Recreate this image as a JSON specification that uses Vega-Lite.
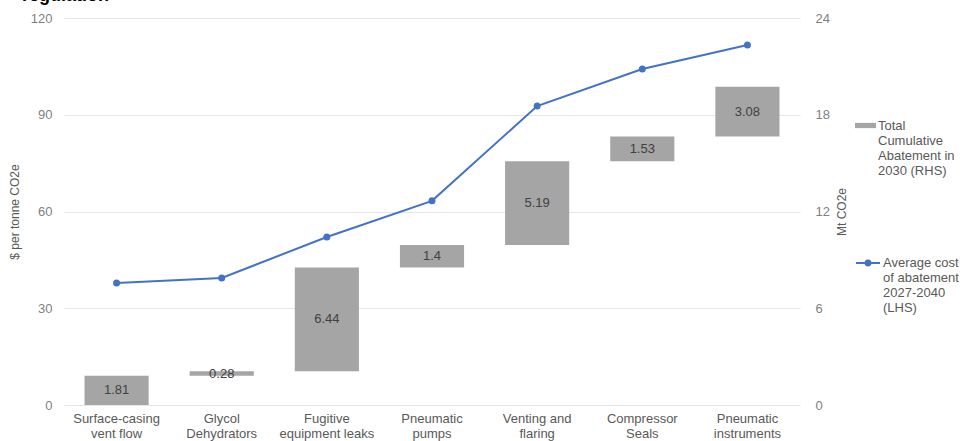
{
  "$schema": "https://vega.github.io/schema/vega-lite/v6.json",
  "width": 736,
  "height": 387,
  "autosize": {"type": "none"},
  "padding": {"left": 64, "top": 18, "right": 163, "bottom": 36},
  "background": "white",
  "title": {"text": "regulation", "anchor": "start", "frame": "group", "fontSize": 18, "fontWeight": "bold", "color": "#000000", "font": "Liberation Sans", "dx": -42, "offset": 7},
  "config": {"view": {"stroke": null}, "font": "Liberation Sans"},
  "data": {
    "values": [
      {"order": 1, "cat": "Surface-casing|vent flow", "abatement": 1.81, "cost": 37.8},
      {"order": 2, "cat": "Glycol|Dehydrators", "abatement": 0.28, "cost": 39.4},
      {"order": 3, "cat": "Fugitive|equipment leaks", "abatement": 6.44, "cost": 52.1},
      {"order": 4, "cat": "Pneumatic|pumps", "abatement": 1.4, "cost": 63.3},
      {"order": 5, "cat": "Venting and|flaring", "abatement": 5.19, "cost": 92.7},
      {"order": 6, "cat": "Compressor|Seals", "abatement": 1.53, "cost": 104.2},
      {"order": 7, "cat": "Pneumatic|instruments", "abatement": 3.08, "cost": 111.6}
    ]
  },
  "transform": [
    {"window": [{"op": "sum", "field": "abatement", "as": "end"}], "sort": [{"field": "order"}]},
    {"calculate": "datum.end - datum.abatement", "as": "start"},
    {"calculate": "datum.end - datum.abatement / 2", "as": "mid"}
  ],
  "encoding": {
    "x": {
      "field": "cat", "type": "nominal", "sort": null, "title": null,
      "scale": {"paddingInner": 0.39, "paddingOuter": 0.195},
      "axis": {"labelExpr": "split(datum.label, '|')", "labelAngle": 0, "labelFontSize": 13, "labelColor": "#595959", "labelLineHeight": 15, "labelPadding": 7, "domain": false, "ticks": false, "labelFont": "Liberation Sans"}
    }
  },
  "layer": [
    {
      "layer": [
        {
          "mark": {"type": "bar"},
          "encoding": {
            "y": {"field": "start", "type": "quantitative", "title": "Mt CO2e", "scale": {"domain": [0, 24]},
              "axis": {"orient": "right", "values": [0, 6, 12, 18, 24], "grid": false, "domain": false, "ticks": false, "labelFontSize": 13, "labelColor": "#7f7f7f", "labelPadding": 15, "labelAlign": "left", "titleAngle": 270, "titleFontSize": 12, "titleFontWeight": "normal", "titleColor": "#595959", "titlePadding": 19}},
            "y2": {"field": "end"},
            "fill": {"datum": "Total|Cumulative|Abatement in|2030 (RHS)", "type": "nominal", "scale": {"range": ["#a5a5a5"]},
              "legend": {"title": null, "orient": "none", "legendX": 791, "legendY": 97, "symbolType": "M-1,-0.25H1V0.25H-1Z", "symbolSize": 441, "symbolStrokeWidth": 0, "labelExpr": "split(datum.label, '|')", "labelFontSize": 13, "labelColor": "#595959", "labelOffset": 2, "labelLimit": 200}}
          }
        },
        {
          "mark": {"type": "text", "fontSize": 13, "color": "#404040", "baseline": "middle"},
          "encoding": {
            "y": {"field": "mid", "type": "quantitative", "title": "Mt CO2e"},
            "text": {"field": "abatement", "type": "quantitative"}
          }
        }
      ]
    },
    {
      "mark": {"type": "line", "strokeWidth": 2, "point": {"filled": true, "size": 25, "color": "#4472c4"}},
      "encoding": {
        "y": {"field": "cost", "type": "quantitative", "title": "$ per tonne CO2e", "scale": {"domain": [0, 120]},
          "axis": {"orient": "left", "values": [0, 30, 60, 90, 120], "grid": true, "gridColor": "#e6e6e6", "domain": false, "ticks": false, "labelFontSize": 13, "labelColor": "#7f7f7f", "labelPadding": 12, "titleFontSize": 12, "titleFontWeight": "normal", "titleColor": "#595959", "titlePadding": 9}},
        "stroke": {"datum": "Average cost|of abatement|2027-2040|(LHS)", "type": "nominal", "scale": {"range": ["#4472c4"]},
          "legend": {"title": null, "orient": "none", "legendX": 791, "legendY": 232, "symbolType": "M-1,0H1M0.2,0A0.2,0.2 0 1,1 -0.2,0A0.2,0.2 0 1,1 0.2,0Z", "symbolSize": 576, "symbolStrokeWidth": 2, "symbolFillColor": "#4472c4", "labelExpr": "split(datum.label, '|')", "labelFontSize": 13, "labelColor": "#595959", "labelOffset": 2, "labelLimit": 200}}
      }
    }
  ],
  "resolve": {"scale": {"y": "independent", "fill": "independent", "stroke": "independent"}}
}
